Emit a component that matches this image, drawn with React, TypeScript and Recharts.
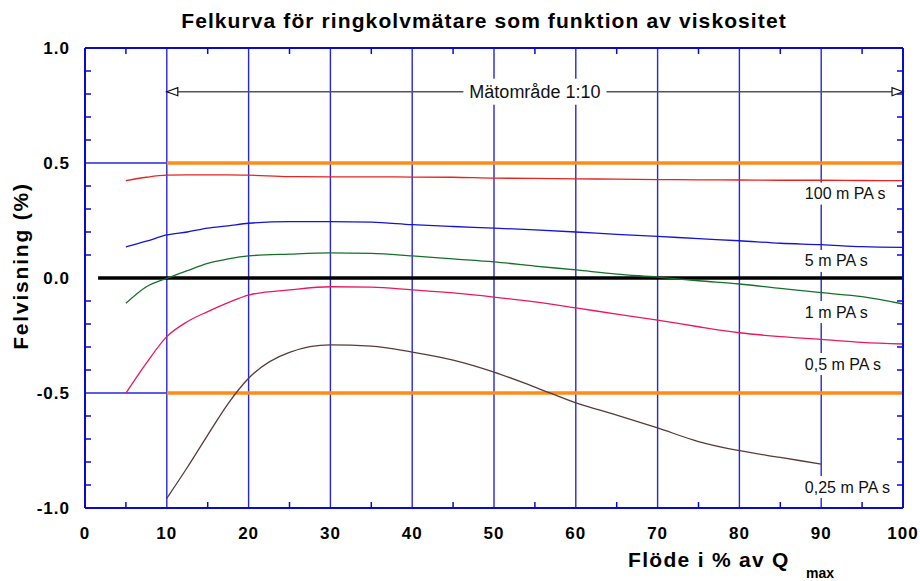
import { useLayoutEffect, useRef, useState } from "react";
import {
  LineChart,
  Line,
  XAxis,
  YAxis,
  CartesianGrid,
  ReferenceLine,
  ReferenceDot,
} from "recharts";

// flow in % of Q max
const flow = [5, 7.5, 10, 12.5, 15, 17.5, 20, 25, 30, 35, 40, 45, 50, 55, 60, 65, 70, 75, 80, 85, 90, 95, 100];

// error (%) per viscosity
const visc100 = [0.423, 0.438, 0.447, 0.448, 0.448, 0.448, 0.447, 0.441, 0.44, 0.44, 0.439, 0.438, 0.434, 0.433, 0.431, 0.43, 0.428, 0.427, 0.426, 0.425, 0.425, 0.424, 0.423];
const visc5 = [0.135, 0.16, 0.187, 0.2, 0.217, 0.227, 0.238, 0.245, 0.245, 0.243, 0.232, 0.224, 0.217, 0.209, 0.2, 0.19, 0.181, 0.171, 0.162, 0.151, 0.145, 0.136, 0.133];
const visc1 = [-0.11, -0.038, -0.001, 0.032, 0.064, 0.083, 0.096, 0.104, 0.109, 0.107, 0.096, 0.083, 0.07, 0.052, 0.035, 0.017, 0.004, -0.012, -0.026, -0.045, -0.064, -0.081, -0.113];
const visc05 = [-0.501, -0.37, -0.255, -0.19, -0.146, -0.107, -0.074, -0.052, -0.038, -0.04, -0.052, -0.065, -0.083, -0.104, -0.13, -0.157, -0.183, -0.212, -0.238, -0.255, -0.267, -0.28, -0.287];
const visc025 = [null, null, -0.958, -0.824, -0.683, -0.546, -0.436, -0.323, -0.291, -0.296, -0.322, -0.357, -0.409, -0.474, -0.543, -0.596, -0.652, -0.711, -0.751, -0.78, -0.809, null, null];

const seriesKeys = ["v100", "v5", "v1", "v05", "v025"];
const seriesNames = ["100 m PA s", "5 m PA s", "1 m PA s", "0,5 m PA s", "0,25 m PA s"];
const seriesColors = ["#e8231f", "#1414d2", "#16702a", "#e8195c", "#5a3a3a"];
// where the curve names sit (x in %, y in error %)
const nameAtX = 88;
const nameAtY = [0.367, 0.074, -0.148, -0.374, -0.909];

const xTicks = [0, 10, 20, 30, 40, 50, 60, 70, 80, 90, 100];
const xMinor = [5, 15, 25, 35, 45, 55, 65, 75, 85, 95];
const yTicks = [-1, -0.5, 0, 0.5, 1];
const yMinor = [-0.9, -0.8, -0.7, -0.6, -0.4, -0.3, -0.2, -0.1, 0.1, 0.2, 0.3, 0.4, 0.6, 0.7, 0.8, 0.9];

const limit = 0.5;
const rangeFrom = 10;
const rangeTo = 100;
const rangeLevel = 0.81;
const zeroFrom = 1.6;

const FONT = "'Liberation Sans', Arial, Helvetica, sans-serif";
const AXIS = "#0a0acc";
const GRID = "#2626dc";
const ORANGE = "#ff8c1a";

function BoxLabel(props: any) {
  const { viewBox, text, fontSize = 16, align = "start", padX = 4, padY = 4 } = props;
  const ref = useRef<SVGTextElement>(null);
  const [w, setW] = useState(0);
  useLayoutEffect(() => {
    if (ref.current) setW(ref.current.getComputedTextLength());
  }, [text]);
  if (!viewBox) return null;
  const cx = viewBox.x + (viewBox.width || 0) / 2;
  const cy = viewBox.y + (viewBox.height || 0) / 2;
  const left = align === "middle" ? cx - w / 2 : cx;
  return (
    <g>
      <rect
        x={left - padX}
        y={cy - fontSize / 2 - padY}
        width={w + padX * 2}
        height={fontSize + padY * 2}
        fill="#fff"
      />
      <text
        ref={ref}
        x={align === "middle" ? cx : left}
        y={cy}
        textAnchor={align}
        dominantBaseline="central"
        fontSize={fontSize}
        fontFamily={FONT}
        fill="#111"
      >
        {text}
      </text>
    </g>
  );
}

function ArrowLine(props: any) {
  const { x1, y1, x2, y2 } = props;
  const len = 11;
  const half = 4;
  return (
    <g>
      <line x1={x1} y1={y1} x2={x2} y2={y2} stroke="#555" strokeWidth={1.6} />
      <polygon
        points={`${x1},${y1} ${x1 + len},${y1 - half} ${x1 + len},${y1 + half}`}
        fill="#fff"
        stroke="#111"
        strokeWidth={1.2}
      />
      <polygon
        points={`${x2},${y2} ${x2 - len},${y2 - half} ${x2 - len},${y2 + half}`}
        fill="#fff"
        stroke="#111"
        strokeWidth={1.2}
      />
    </g>
  );
}

// minor axes: keep the tick line, draw no label
const NoLabel = () => <g />;

const boldTick = {
  fill: "#000",
  fontSize: 17,
  fontWeight: "bold",
  fontFamily: FONT,
  letterSpacing: 1,
};

export default function App() {
  const data = flow.map((f, i) => ({
    flow: f,
    v100: visc100[i],
    v5: visc5[i],
    v1: visc1[i],
    v05: visc05[i],
    v025: visc025[i],
  }));

  const minorTickLine = { stroke: AXIS, strokeWidth: 1.5 };

  return (
    <div style={{ position: "absolute", left: 0, top: 0, width: 920, height: 581, background: "#fff" }}>
      <LineChart
        width={920}
        height={581}
        data={data}
        margin={{ top: 48, right: 17, bottom: 43, left: 25 }}
      >
        <CartesianGrid horizontal={false} stroke={GRID} strokeWidth={1.4} />

        <XAxis
          dataKey="flow"
          type="number"
          domain={[0, 100]}
          ticks={xTicks}
          interval={0}
          height={30}
          tickLine={false}
          tickSize={0}
          tickMargin={19}
          axisLine={{ stroke: AXIS, strokeWidth: 2 }}
          tick={boldTick}
        />
        <XAxis
          xAxisId="bottomMinor"
          dataKey="flow"
          type="number"
          domain={[0, 100]}
          allowDataOverflow
          ticks={xMinor}
          interval={0}
          height={1}
          mirror
          axisLine={false}
          tick={NoLabel}
          tickSize={6}
          tickLine={minorTickLine}
        />
        <XAxis
          xAxisId="top"
          orientation="top"
          dataKey="flow"
          type="number"
          domain={[0, 100]}
          allowDataOverflow
          ticks={xMinor}
          interval={0}
          height={1}
          mirror
          axisLine={{ stroke: AXIS, strokeWidth: 2 }}
          tick={NoLabel}
          tickSize={6}
          tickLine={minorTickLine}
        />
        <YAxis
          type="number"
          domain={[-1, 1]}
          ticks={yTicks}
          interval={0}
          width={60}
          tickLine={false}
          tickSize={0}
          tickMargin={15}
          tickFormatter={(v: number) => v.toFixed(1)}
          axisLine={{ stroke: AXIS, strokeWidth: 2 }}
          tick={boldTick}
        />
        <YAxis
          yAxisId="leftMinor"
          type="number"
          domain={[-1, 1]}
          allowDataOverflow
          ticks={yMinor}
          interval={0}
          width={1}
          mirror
          axisLine={false}
          tick={NoLabel}
          tickSize={6}
          tickLine={minorTickLine}
        />
        <YAxis
          yAxisId="right"
          orientation="right"
          type="number"
          domain={[-1, 1]}
          allowDataOverflow
          ticks={yMinor}
          interval={0}
          width={1}
          mirror
          axisLine={{ stroke: AXIS, strokeWidth: 2 }}
          tick={NoLabel}
          tickSize={6}
          tickLine={minorTickLine}
        />

        <ReferenceLine y={limit} stroke={GRID} strokeWidth={1.4} />
        <ReferenceLine y={-limit} stroke={GRID} strokeWidth={1.4} />
        <ReferenceLine
          segment={[{ x: rangeFrom, y: limit }, { x: rangeTo, y: limit }]}
          stroke={ORANGE}
          strokeWidth={3.5}
        />
        <ReferenceLine
          segment={[{ x: rangeFrom, y: -limit }, { x: rangeTo, y: -limit }]}
          stroke={ORANGE}
          strokeWidth={3.5}
        />
        <ReferenceLine
          segment={[{ x: zeroFrom, y: 0 }, { x: 100, y: 0 }]}
          stroke="#000"
          strokeWidth={3.5}
        />
        <ReferenceLine
          segment={[{ x: rangeFrom, y: rangeLevel }, { x: rangeTo, y: rangeLevel }]}
          shape={ArrowLine}
          label={<BoxLabel text="Mätområde 1:10" fontSize={18} align="middle" padX={6} padY={4} />}
        />

        {seriesKeys.map((key, i) => (
          <Line
            key={key}
            dataKey={key}
            type="monotone"
            stroke={seriesColors[i]}
            strokeWidth={1.3}
            dot={false}
            activeDot={false}
            isAnimationActive={false}
          />
        ))}

        {seriesNames.map((name, i) => (
          <ReferenceDot
            key={name}
            x={nameAtX}
            y={nameAtY[i]}
            r={0}
            fill="none"
            stroke="none"
            label={<BoxLabel text={name} fontSize={16} padX={3} padY={3} />}
          />
        ))}

        <text
          x={484}
          y={28}
          textAnchor="middle"
          fontSize={21}
          fontWeight="bold"
          fontFamily={FONT}
          letterSpacing={1.1}
          fill="#000"
        >
          Felkurva för ringkolvmätare som funktion av viskositet
        </text>
        <text
          x={20}
          y={266}
          transform="rotate(-90, 20, 266)"
          textAnchor="middle"
          dominantBaseline="central"
          fontSize={21}
          fontWeight="bold"
          fontFamily={FONT}
          letterSpacing={1.8}
          fill="#000"
        >
          Felvisning (%)
        </text>
        <text
          x={628}
          y={567}
          fontSize={21}
          fontWeight="bold"
          fontFamily={FONT}
          letterSpacing={1.3}
          fill="#000"
        >
          Flöde i % av Q
        </text>
        <text x={806} y={578} fontSize={14} fontWeight="bold" fontFamily={FONT} fill="#000">
          max
        </text>
      </LineChart>
    </div>
  );
}
